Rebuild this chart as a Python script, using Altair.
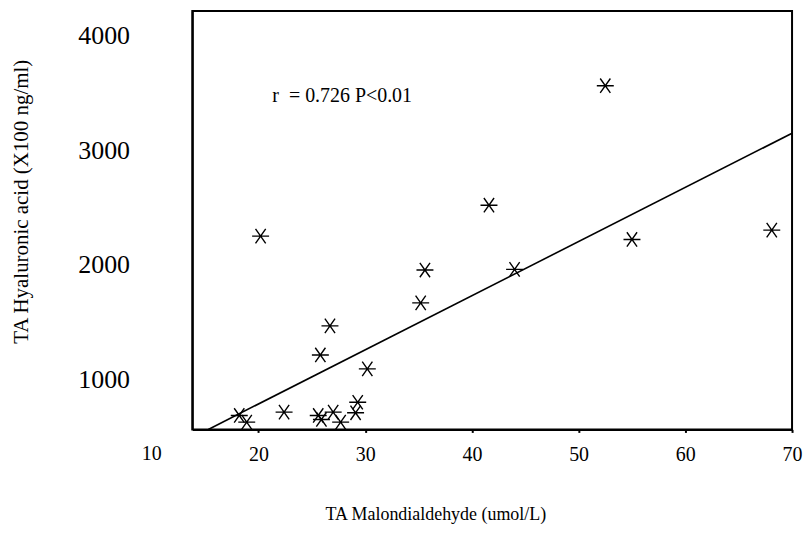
import altair as alt
import pandas as pd

# Data
malondialdehyde = [52.5, 41.6, 20.2, 68.1, 55.0, 35.6, 44.0, 35.2, 26.7, 25.8,
                   30.2, 29.3, 29.1, 22.4, 18.2, 18.9, 25.6, 25.9, 27.0, 27.7]
hyaluronic = [3565, 2522, 2252, 2304, 2223, 1956, 1962, 1669, 1469, 1215,
              1093, 802, 710, 716, 687, 629, 687, 652, 716, 629]
fit_x = [15.3, 70.0]
fit_y = [565, 3150]
x_ticks = [20, 30, 40, 50, 60, 70]
y_ticks = [1000, 2000, 3000, 4000]
extra_x_label = [10]
annotation = "r\u00a0 = 0.726 P<0.01"

FONT = "Liberation Serif"
X_DOMAIN = [13.8, 70]
Y_DOMAIN = [565, 4217]

pts = pd.DataFrame({"x": malondialdehyde, "y": hyaluronic})
fit = pd.DataFrame({"x": fit_x, "y": fit_y})
lab = pd.DataFrame({"x": extra_x_label, "t": [str(v) for v in extra_x_label]})
ann = pd.DataFrame({"x": [21.3], "y": [3478], "t": [annotation]})

xscale = alt.Scale(domain=X_DOMAIN, nice=False, zero=False)
yscale = alt.Scale(domain=Y_DOMAIN, nice=False, zero=False)

xaxis = alt.Axis(values=x_ticks, format="d", title="TA Malondialdehyde (umol/L)", grid=False,
                 labelFont=FONT, labelFontSize=20, labelColor="black",
                 labelFlush=False, labelPadding=12,
                 tickSize=3, tickWidth=2, tickColor="black",
                 domainColor="black", domainWidth=2,
                 titleFont=FONT, titleFontSize=18, titleFontWeight="normal",
                 titleColor="black", titleX=244, titleY=85,
                 titleBaseline="middle", titleAlign="center")
yaxis = alt.Axis(values=y_ticks, format="d", title="TA Hyaluronic acid (X100 ng/ml)", grid=False,
                 labelFont=FONT, labelFontSize=26, labelColor="black",
                 labelPadding=63, ticks=False,
                 domainColor="black", domainWidth=2,
                 titleFont=FONT, titleFontSize=21, titleFontWeight="normal",
                 titleColor="black", titleX=-171, titleY=191, titleAngle=270,
                 titleBaseline="middle", titleAlign="center")

star = "M-1,0L1,0M-0.6,-0.85L0.6,0.85M-0.6,0.85L0.6,-0.85"

points = alt.Chart(pts).mark_point(shape=star, filled=False, stroke="black",
                                   strokeWidth=1.4, size=290, opacity=1).encode(
    x=alt.X("x:Q", scale=xscale, axis=xaxis),
    y=alt.Y("y:Q", scale=yscale, axis=yaxis),
)

line = alt.Chart(fit).mark_line(color="black", strokeWidth=1.6).encode(
    x=alt.X("x:Q", scale=xscale),
    y=alt.Y("y:Q", scale=yscale),
)

ten = alt.Chart(lab).mark_text(font=FONT, fontSize=20, color="black",
                               baseline="top", align="center").encode(
    x=alt.X("x:Q", scale=xscale),
    y=alt.value(435),
    text="t:N",
)

note = alt.Chart(ann).mark_text(font=FONT, fontSize=20, color="black",
                                baseline="middle", align="left").encode(
    x=alt.X("x:Q", scale=xscale),
    y=alt.Y("y:Q", scale=yscale),
    text="t:N",
)

chart = alt.layer(line, points, ten, note).properties(
    width=602, height=420,
    autosize=alt.AutoSizeParams(type="none"),
    padding={"left": 185, "top": 2, "right": 12, "bottom": 110},
    background="white",
).configure_view(stroke="black", strokeWidth=2)

chart.save("out.html", embed_options={"renderer": "svg", "actions": False})
